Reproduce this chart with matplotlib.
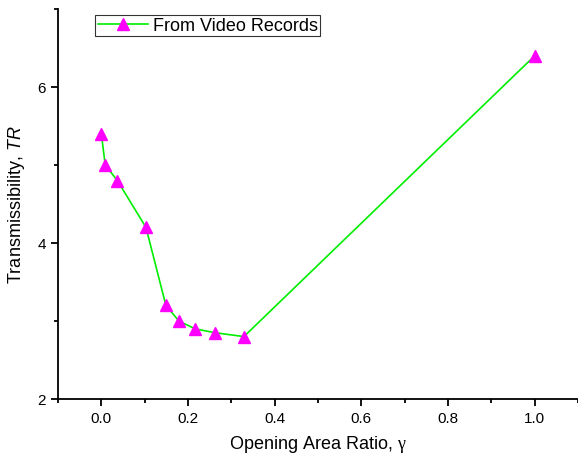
"""Transmissibility against opening area ratio."""

import matplotlib
matplotlib.use("Agg")
from matplotlib import pyplot as plt
from matplotlib.ticker import MultipleLocator

# opening area ratio and measured transmissibility
opening_ratio = [0.0, 0.009, 0.037, 0.103, 0.149, 0.179, 0.216, 0.262, 0.329, 1.0]
transmissibility = [5.4, 5.0, 4.8, 4.2, 3.2, 3.0, 2.9, 2.85, 2.8, 6.4]
series_label = "From Video Records"

plt.rcParams["font.family"] = ["Liberation Sans", "DejaVu Sans"]
plt.rcParams["mathtext.fontset"] = "custom"
plt.rcParams["mathtext.it"] = "Liberation Sans:italic"
plt.rcParams["mathtext.rm"] = "Liberation Serif"

fig = plt.figure(figsize=(5.78, 4.60), dpi=100)
ax = fig.add_axes([58 / 578, 60 / 460, 520 / 578, 390 / 460])

ax.plot(opening_ratio, transmissibility, color="#00ee00", linewidth=1.2,
        marker="^", markersize=8.5, markerfacecolor="#ff00ff", markeredgecolor="#ff00ff",
        label=series_label)

ax.set_xlim(-0.1, 1.1)
ax.set_ylim(2, 7)
ax.xaxis.set_minor_locator(MultipleLocator(0.1))
ax.yaxis.set_minor_locator(MultipleLocator(1))
ax.set_xticks([0.0, 0.2, 0.4, 0.6, 0.8, 1.0])
ax.set_xticklabels(["0.0", "0.2", "0.4", "0.6", "0.8", "1.0"])
ax.set_yticks([2, 4, 6])
ax.set_yticklabels(["2", "4", "6"])

for side in ("top", "right"):
    ax.spines[side].set_visible(False)
for side in ("left", "bottom"):
    ax.spines[side].set_linewidth(1.3)
ax.tick_params(which="major", direction="out", length=5, width=1.3, labelsize=11, colors="black")
ax.tick_params(which="minor", direction="out", length=3, width=1.3)

ax.set_xlabel(r"Opening Area Ratio, $\mathrm{\gamma}$", fontsize=13, labelpad=6)
ax.set_ylabel(r"Transmissibility, $TR$", fontsize=13, labelpad=8)

leg = ax.legend(loc="upper left", bbox_to_anchor=(0.072, 0.985), fontsize=13, frameon=True,
                fancybox=False, edgecolor="black", handlelength=2.8, borderpad=0.12,
                handletextpad=0.25, borderaxespad=0)
leg.get_frame().set_linewidth(0.8)

fig.savefig("out.png", dpi=100)
